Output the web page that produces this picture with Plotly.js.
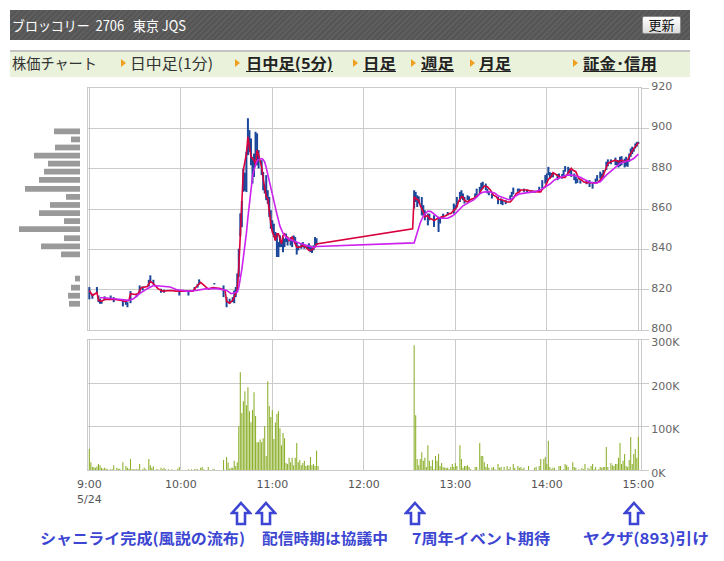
<!DOCTYPE html>
<html><head><meta charset="utf-8">
<script src="https://cdn.plot.ly/plotly-3.0.1.min.js"></script>
<style>
html,body{margin:0;padding:0;background:#fff;}
body{width:724px;height:561px;overflow:hidden;position:relative;font-family:"Noto Sans CJK JP","Noto Sans",sans-serif;}
#chart{position:absolute;left:0;top:0;width:724px;height:561px;}
.ov{position:absolute;white-space:nowrap;transform-origin:left center;display:inline-block;}
#hdr{position:absolute;left:10px;top:10px;width:680px;height:30px;
 background:repeating-linear-gradient(135deg,#555 0px,#555 2px,#5e5e5e 2px,#5e5e5e 4px);}
#btn{position:absolute;left:642px;top:16px;width:37px;height:16px;border:1px solid #8a8a8a;border-radius:2px;
 background:linear-gradient(#ffffff,#dcdcdc);font-size:13px;line-height:16px;text-align:center;color:#111;}
#nav{position:absolute;left:10px;top:50px;width:680px;height:25px;background:#eaf2db;border-top:2px solid #c4c4c4;}
.tri{position:absolute;width:0;height:0;border-left:5px solid #f0a020;border-top:4px solid transparent;border-bottom:4px solid transparent;top:59px;}
.nv{font-size:15px;line-height:16px;color:#333;top:55px;}
.nb{font-weight:bold;color:#222;text-decoration:underline;text-underline-offset:2px;}
.ann{font-size:15px;line-height:18px;font-weight:bold;color:#3c46d2;top:529px;}
.arr{position:absolute;top:501px;}
</style></head>
<body>
<div id="chart"></div>
<div id="hdr"></div>
<div class="ov" data-w="174" style="left:12px;top:17px;font-size:14px;line-height:16px;color:#fff;">ブロッコリー&nbsp;&nbsp;2706&nbsp;&nbsp;&nbsp;東京&nbsp;JQS</div>
<div id="btn">更新</div>
<div id="nav"></div>
<div class="ov nv" data-w="85" style="left:12px;">株価チャート</div>
<div class="tri" style="left:121px;"></div>
<div class="ov nv" data-w="83" style="left:130px;">日中足(1分)</div>
<div class="tri" style="left:235px;"></div>
<div class="ov nv nb" data-w="87" style="left:246px;">日中足(5分)</div>
<div class="tri" style="left:353px;"></div>
<div class="ov nv nb" data-w="33" style="left:363px;">日足</div>
<div class="tri" style="left:411px;"></div>
<div class="ov nv nb" data-w="33" style="left:421px;">週足</div>
<div class="tri" style="left:470px;"></div>
<div class="ov nv nb" data-w="32" style="left:479px;">月足</div>
<div class="tri" style="left:573px;"></div>
<div class="ov nv nb" data-w="74" style="left:583px;">証金･信用</div>

<div class="ov ann" data-w="205" style="left:40px;">シャニライ完成(風説の流布)</div>
<div class="ov ann" data-w="126" style="left:262px;">配信時期は協議中</div>
<div class="ov ann" data-w="138" style="left:412px;">7周年イベント期待</div>
<div class="ov ann" data-w="126" style="left:583px;">ヤクザ(893)引け</div>
<svg class="arr" style="left:230px" width="22" height="26"><path d="M11 2 L20 12 L15 12 L15 23 L7 23 L7 12 L2 12 Z" fill="#fff" stroke="#3c46d2" stroke-width="2.6" stroke-linejoin="miter"/></svg>
<svg class="arr" style="left:255px" width="22" height="26"><path d="M11 2 L20 12 L15 12 L15 23 L7 23 L7 12 L2 12 Z" fill="#fff" stroke="#3c46d2" stroke-width="2.6" stroke-linejoin="miter"/></svg>
<svg class="arr" style="left:404px" width="22" height="26"><path d="M11 2 L20 12 L15 12 L15 23 L7 23 L7 12 L2 12 Z" fill="#fff" stroke="#3c46d2" stroke-width="2.6" stroke-linejoin="miter"/></svg>
<svg class="arr" style="left:623px" width="22" height="26"><path d="M11 2 L20 12 L15 12 L15 23 L7 23 L7 12 L2 12 Z" fill="#fff" stroke="#3c46d2" stroke-width="2.6" stroke-linejoin="miter"/></svg>

<script>
// ---- time axis (minutes after 9:00) ----
const hourTicks = [0, 60, 120, 180, 240, 300, 360];
const hourLabels = ['9:00<br>5/24', '10:00', '11:00', '12:00', '13:00', '14:00', '15:00'];
// ---- volume axis ticks (thousand shares) ----
const volTicks = [0, 100, 200, 300];
const volTickLabels = ['0K', '100K', '200K', '300K'];

// ---- 1-minute bars: high/low ----
const barMin = [0,2,5,6,7,8,10,14,16,22,24,25,27,31,33,35,39,40,42,47,49,59,65,69,71,72,82,88,90,92,94,95,96,97,98,99,100,101,102,103,104,105,106,107,108,109,110,111,113,114,115,116,117,118,119,120,121,122,123,124,125,126,127,128,129,130,132,133,134,135,136,137,139,140,141,143,144,145,146,147,148,149,
 213,214,215,216,218,219,220,222,223,226,229,230,232,235,239,240,241,243,244,245,246,248,249,253,254,256,257,258,260,261,262,264,268,270,271,273,276,277,278,281,282,285,287,290,292,295,297,299,300,301,302,303,304,307,308,310,311,312,314,315,316,318,319,320,322,326,328,330,332,333,335,336,337,339,340,342,345,346,347,348,349,351,352,353,354,355,356,357,358,359,360];
const barLow = [815.2,815.5,818,813.8,813,813,814.7,815.5,813.8,811.7,812.5,811.3,813.3,816.3,818,819.6,821.6,823.8,822.6,818.5,818.5,817.1,817.1,819.6,821,822.6,822.6,816.3,811.3,813,813.8,813.3,816.3,819,826.3,846.4,851,868.5,869,868.4,886.7,888.4,881.7,872.6,875.9,884.2,881.7,880.1,876.8,869.3,867.7,864.4,862.6,856.1,850.2,849.5,846,844.5,836.2,836.2,841.1,841.1,838.6,841.1,843.6,841.9,841.9,841.1,843.6,842.8,837.4,839.5,840.3,841.1,840.3,840.3,840,838.6,838.2,839.5,841.9,842,
 860.2,863.5,861,862.7,856.8,856.8,854.4,851.9,854.4,851.1,848.6,852.8,855.2,856.8,857.7,859.4,861,863.5,865.2,864.4,862.7,864.4,864,865.7,866.8,867.7,869.3,870.1,869.3,867.7,866.8,865.2,862.4,862.4,861.9,862.4,864.4,866,867.3,868.5,868.9,868.5,868.1,868,868,868.5,870.1,872.6,873.5,876.8,875,875.9,875.7,874.3,875.1,875.1,875.9,878.5,877.6,877.6,875.9,874.3,872.6,872.9,872.6,872.3,870.9,870.1,872.6,873.9,875.1,874.3,875.9,879.3,881.2,882.2,881.7,881.7,880.6,881.2,881.7,880.6,881.2,880.9,883.4,885.9,887.2,888.4,890,890.9,892.2];
const barHigh = [821.3,818,821.3,817.1,815.5,814.7,816.7,817.1,816.3,814.7,814.7,813.8,819.3,818,822.1,821.6,824.9,827.1,824.9,820.5,820,819.3,819.3,821.3,822.9,825.1,823.3,822.1,816.3,815.5,816.3,819.6,821.3,828,840.3,857.8,864,880.1,878,888.4,905,899.1,895,885.9,887.5,898.3,897.5,889.2,884.2,878.4,871.8,876.8,869.3,866,859.4,854.4,852.7,848.6,847.8,843.6,846.9,843.6,846.1,845.3,847.8,845.3,846.1,844.4,846.9,846.1,843.6,841.9,842.8,843.6,841.9,842,843,841.9,841,842,846.1,845.5,
 869.3,868.5,866.8,866.3,865.9,861.9,859.4,857.7,857.7,856.9,856.1,856.1,857.7,858.5,862.7,861.9,866,868.5,869.3,867.7,866,866.8,866.3,867.7,870.1,871,873,873.5,872.6,870.1,868.5,867.7,866,865.2,864.4,864.4,866.8,868.5,870.6,870.1,870.1,870.1,869.6,869.3,869,871,874.3,876.8,877.6,880.9,878.3,877.9,877.6,877.3,877.6,877.3,879.3,881.3,880.9,880.1,879.3,877.6,875.9,875.1,874.3,874.3,874.3,873.5,875.1,876.8,878.5,877.6,879.3,883.4,884.6,884.6,885.5,884.2,884.2,885.9,886.2,885,885.9,884.2,887.5,890,890.9,890,892.5,893.3,893.3];

// ---- red line ----
const lineMin = [0,2,5,6,8,10,14,17,21,23,26,27,30,32,34,38,40,42,45,48,53,57,64,68,70,73,76,78,81,86,89,90,92,94,96,97,98,99,100,101,102,103,104,105,106,107,108,109,110,111,113,114,115,116,117,118,119,120,121,122,123,124,125,126,127,128,129,130,131,133,134,136,138,140,142,144,146,148,149,
 212,213,214,216,217,219,220,222,223,224,226,227,228,230,231,233,234,236,237,238,240,241,242,244,245,246,248,249,250,252,253,255,256,257,259,260,261,263,264,265,267,268,270,271,272,274,275,276,278,279,280,282,283,285,287,289,292,294,296,297,299,300,301,303,304,305,307,308,309,311,312,313,315,316,317,319,320,321,323,324,326,328,331,333,335,337,339,340,342,345,347,349,351,353,355,356,357,358,359,360];
const lineVal = [819.6,817.1,818.6,814.7,814.2,815.2,815.2,815.2,814.7,814.2,814.7,818,817.6,818,821,821.6,824.1,823,820.5,819.3,819.6,819.3,819.3,819.3,821.3,823.6,821.6,820.3,821,820.6,819.6,814.3,813.3,814.7,818,820,831,847,864.3,879.3,883.4,887.5,895.8,891.6,885.8,885,884.2,881.7,889.2,886.7,880.9,875.1,869.3,866,865.1,857.7,852.7,848.5,846.9,844.4,847.7,847.7,845.2,842.7,846.9,847.7,846.1,846.1,844.4,846.1,844.4,841.1,841.1,841.9,841.1,839.5,839.8,841.1,842.7,
 850.2,866,865.2,864.3,861.8,858.5,856.1,856.9,855.2,855.2,854.4,854.7,855.2,855.7,856.1,856.4,856.9,857.7,857.7,858.5,860.2,861,863.5,866,866,864.3,863.5,864.3,864.7,865.2,865.7,866.9,867.7,869.4,871.4,871.4,871.1,869.4,867.7,866.9,866,864.7,864.7,864.3,864,863.5,863.5,863.5,865.2,866.4,867.7,868.5,869.4,869.4,869.4,869,868.5,868.5,868.5,869.7,871.1,872.7,874.7,876,878,877.6,876.8,876,875.6,875.6,875.6,876.8,879.3,880.2,879.3,878.5,876.8,875.1,874.3,873.5,873,873,873,873,874.3,876.8,880.6,882.6,883.4,884.2,883.4,884.2,883.4,884.2,887.5,889.2,890,890.9,892.2,892.8];

// ---- magenta moving average ----
const maMin = [7,10,16,22,26,29,33,38,42,46,53,57,64,70,77,84,90,93,97,98,99,100,101,102,103,104,105,106,107,108,109,110,111,113,114,115,116,117,118,119,120,121,122,123,124,125,127,129,131,134,136,138,140,143,145,147,149,
 212,213,215,217,219,222,224,227,229,232,235,238,240,243,245,249,252,254,256,258,261,264,266,268,272,275,277,279,282,286,289,292,296,299,302,305,309,312,315,318,322,325,328,332,335,339,344,348,351,355,357,359,360];
const maVal = [816,816,815.5,815,814.7,815.5,818,820.5,822,821.8,821.3,820.1,819.3,819.6,820.5,820.5,819.6,818,818.8,821,825,830,836,841,848,856,863,870,876,879.5,882.3,883.8,884.5,885,884.5,883.3,880.5,877,874,870,867,864,860.5,857.5,854.5,851.5,848,846,845,844,843.5,843,842.5,842,841.5,841,841.4,
 843.1,843.2,848.2,853.2,856.6,859,858.7,857,855.7,855.4,855.4,856.5,857.7,860,861.6,863.3,864.5,865.8,867.5,868.3,868.6,868.3,867.8,866.6,865.5,864.6,865,866.2,867.5,868,868.3,868.6,869.5,870.8,872.4,874.4,875.7,876.6,876.9,876.6,875.7,874.4,873.3,872.8,873.5,876.8,880.1,882.6,883.4,884.2,885,886.7,887.2];

// ---- volume per minute (thousand shares) ----
const volMin = [0,1,2,3,4,5,6,7,8,9,10,11,12,14,15,16,18,19,20,22,24,25,26,27,28,29,30,31,32,33,35,36,37,39,40,41,42,44,45,47,48,49,50,52,54,58,59,65,67,69,70,71,73,74,75,78,81,82,88,90,91,92,93,94,95,96,97,98,99,100,101,102,103,104,105,106,107,108,109,110,111,112,113,114,115,116,117,118,119,120,121,122,123,124,125,126,127,128,129,130,131,132,133,134,135,136,137,138,139,140,141,142,143,144,145,146,147,148,149,150,
 213,214,215,216,217,218,219,220,221,222,223,224,225,226,227,228,229,230,231,232,233,234,235,236,237,238,239,240,241,243,244,245,246,247,248,249,250,253,254,256,257,258,259,260,261,262,264,265,266,268,269,270,272,274,275,276,278,279,281,282,283,284,285,288,292,293,295,296,298,299,300,301,302,303,304,305,308,309,311,312,313,314,317,318,319,321,323,324,325,327,328,329,330,331,332,334,335,336,337,338,339,340,342,343,344,345,346,347,348,349,350,351,352,353,354,355,356,357,358,359,360];
const volVal = [48,18,7,7,5,8,14,11,5,3,5,3,2,2,2,11,5,3,3,18,9,5,3,25,2,2,2,2,2,14,2,5,2,25,11,5,8,2,2,5,2,5,2,2,2,3,7,2,2,2,2,2,5,7,2,7,2,2,23,30,17,3,5,5,21,9,18,101,225,131,158,181,149,190,135,110,138,179,124,64,64,70,64,73,101,32,204,147,122,138,71,109,129,135,96,57,85,73,16,14,28,18,28,11,28,62,18,23,11,16,21,9,11,11,30,11,14,9,44,9,
 287,126,25,11,25,41,21,28,7,57,21,9,23,2,32,21,37,9,16,7,5,5,5,2,7,14,7,16,9,57,25,5,9,9,11,7,2,7,7,62,32,32,18,7,14,5,5,7,2,14,5,7,7,9,2,7,14,5,9,5,7,2,5,9,5,7,9,25,25,30,14,67,7,2,5,5,9,9,2,14,11,7,18,7,5,2,5,2,14,5,2,9,14,2,7,2,7,5,7,7,53,7,16,11,9,14,14,28,62,14,21,37,9,7,23,76,14,37,48,28,76];

// ---- volume by price (left profile) ----
const profPrice = [898.5,894.5,890.5,886.5,882.5,878.5,874.5,870,866,862,858,854,850,845.5,841.5,837.5,825.5,821,817,813];
const profVol = [26,9,25,46,32,36,41,55,14,30,41,16,61,16,39,19,5,9,12,11];

// build high-low segments
const segX = [], segY = [];
for (let i = 0; i < barMin.length; i++) {
  segX.push(barMin[i], barMin[i], null);
  segY.push(barLow[i], barHigh[i], null);
}

const GRID = '#cbcbcb';
const tickFont = {family: 'DejaVu Sans', size: 11, color: '#666'};
const W = 724, H = 561;
const xDom = [88 / W, 641 / W];
const xRange = [-0.87, 361.75];
const yPriceDom = [1 - 330 / H, 1 - 88 / H];

const traces = [
  {type: 'scatter', mode: 'lines', x: segX, y: segY, xaxis: 'x', yaxis: 'y',
   line: {color: '#1b479b', width: 2}, connectgaps: false, hoverinfo: 'skip'},
  {type: 'scatter', mode: 'lines', x: lineMin, y: lineVal, xaxis: 'x', yaxis: 'y',
   line: {color: '#d8003c', width: 1.6}, hoverinfo: 'skip'},
  {type: 'scatter', mode: 'lines', x: maMin, y: maVal, xaxis: 'x', yaxis: 'y',
   line: {color: '#cc22ee', width: 1.6}, hoverinfo: 'skip'},
  {type: 'bar', x: volMin, y: volVal, xaxis: 'x2', yaxis: 'y2', width: 0.7,
   marker: {color: '#8cb02c', line: {width: 0}}, hoverinfo: 'skip'},
  {type: 'bar', orientation: 'h', y: profPrice, x: profVol, xaxis: 'x3', yaxis: 'y3', width: 2.85,
   marker: {color: '#9a9a9a', line: {width: 0}}, hoverinfo: 'skip'}
];

const layout = {
  width: W, height: H, margin: {l: 0, r: 0, t: 0, b: 0},
  paper_bgcolor: '#fff', plot_bgcolor: '#fff', showlegend: false,
  font: {family: 'DejaVu Sans', size: 11, color: '#666'},
  xaxis: {domain: xDom, range: xRange, anchor: 'y', tickvals: hourTicks, showticklabels: false, ticks: '',
    showgrid: true, gridcolor: GRID, gridwidth: 1, showline: true, mirror: true, linecolor: GRID, linewidth: 1, zeroline: false},
  yaxis: {domain: yPriceDom, range: [800, 920], dtick: 20, tick0: 800, side: 'right', anchor: 'x',
    ticks: 'outside', ticklen: 7, tickcolor: GRID, showgrid: true, gridcolor: GRID, showline: true, mirror: true,
    linecolor: GRID, linewidth: 1, zeroline: false, tickfont: tickFont, ticklabelshift: -2},
  xaxis2: {domain: xDom, range: xRange, anchor: 'y2', tickvals: hourTicks, ticktext: hourLabels,
    ticks: 'outside', ticklen: 4, tickcolor: 'rgba(0,0,0,0)', showgrid: true, gridcolor: GRID,
    showline: true, mirror: true, linecolor: GRID, linewidth: 1, zeroline: false, tickfont: {family: 'DejaVu Sans', size: 11, color: '#555'}},
  yaxis2: {domain: [1 - 470 / H, 1 - 339.5 / H], range: [0, 300], tickvals: volTicks, ticktext: volTickLabels,
    side: 'right', anchor: 'x2', ticks: 'outside', ticklen: 7, tickcolor: GRID, showgrid: true, gridcolor: GRID,
    showline: true, mirror: true, linecolor: GRID, linewidth: 1, zeroline: false, tickfont: tickFont, ticklabelshift: 3},
  xaxis3: {domain: [0, 80 / W], range: [80, 0], anchor: 'y3', visible: false, fixedrange: true},
  yaxis3: {domain: yPriceDom, range: [800, 920], anchor: 'x3', visible: false, fixedrange: true}
};

Plotly.newPlot('chart', traces, layout, {staticPlot: true, displayModeBar: false});

function fitAll() {
  document.querySelectorAll('.ov[data-w]').forEach(el => {
    el.style.transform = 'none';
    const w = el.getBoundingClientRect().width;
    const t = parseFloat(el.dataset.w);
    if (w > 0) el.style.transform = 'scaleX(' + (t / w) + ')';
  });
}
fitAll();
if (document.fonts && document.fonts.ready) document.fonts.ready.then(fitAll);
</script>
</body></html>
